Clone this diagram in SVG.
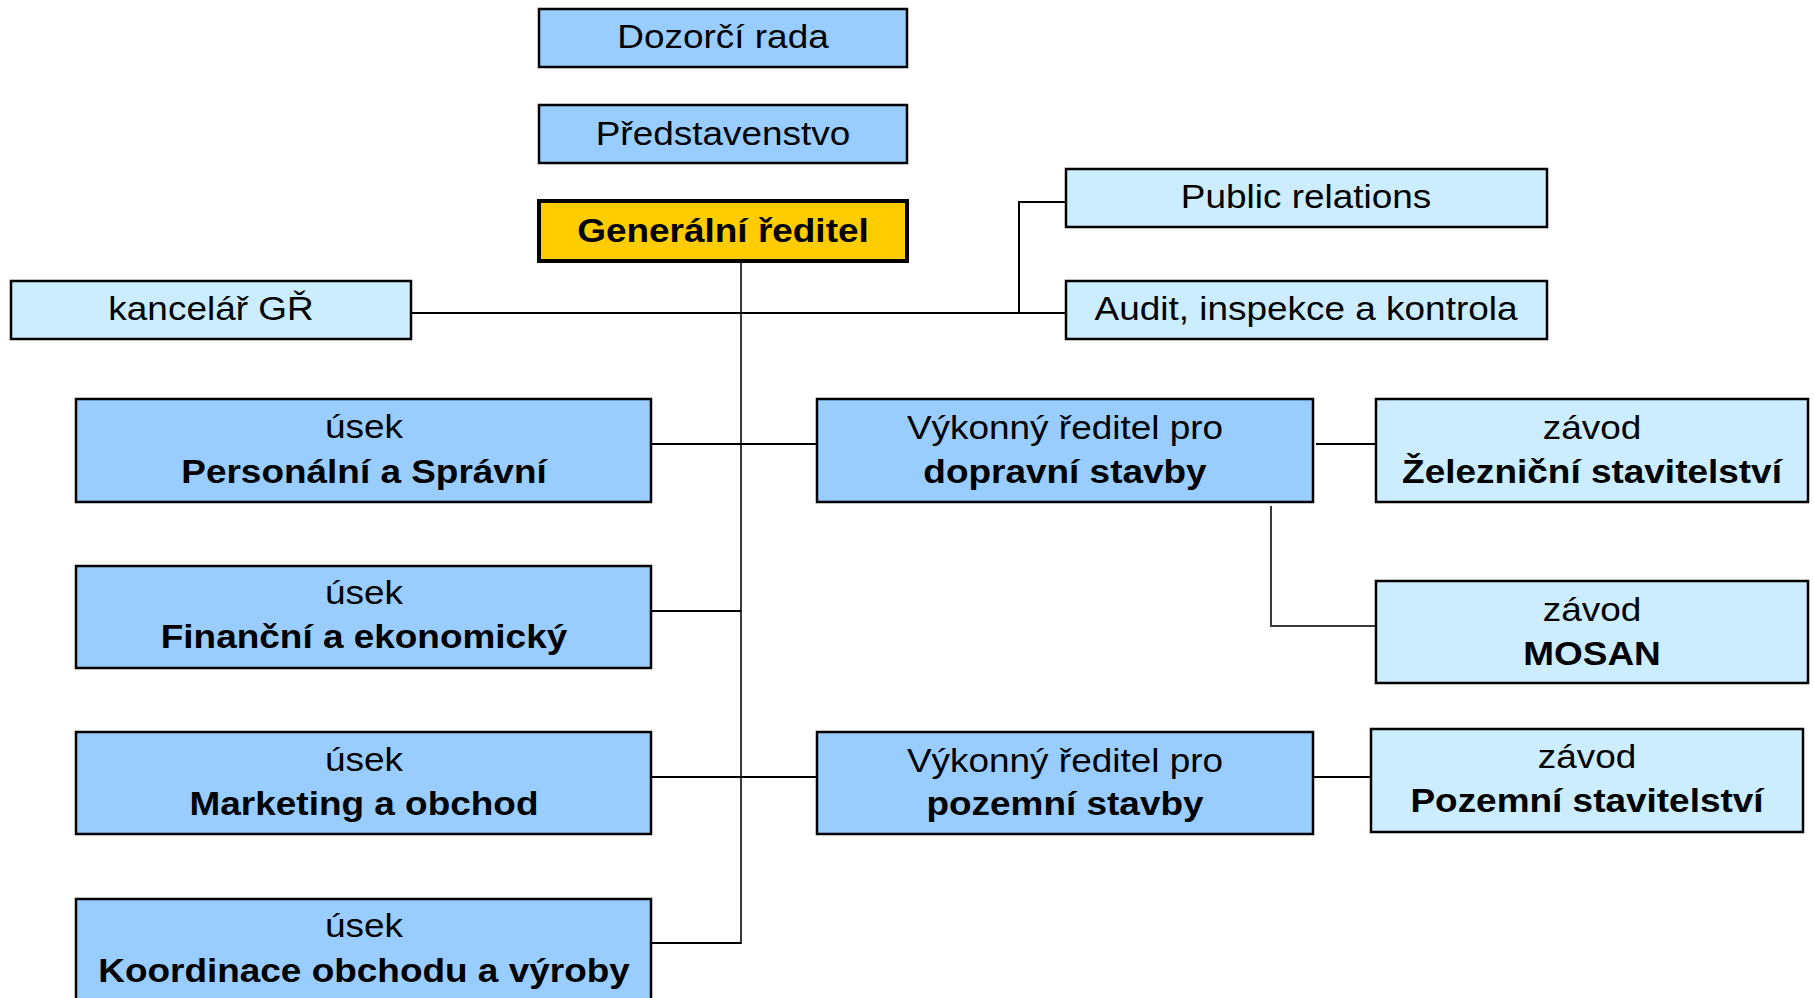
<svg xmlns="http://www.w3.org/2000/svg" width="1814" height="998" viewBox="0 0 1814 998">
<style>
.n{stroke:#000;stroke-width:2.5}
.mb{fill:#99CCFF}
.lb{fill:#CCECFF}
.gd{fill:#FFCC00;stroke-width:4}
text{font-family:"Liberation Sans",Arial,sans-serif;font-size:33px;text-anchor:middle;fill:#000}
.b{font-weight:bold}
.c{fill:none;stroke:#000;stroke-width:2}
.cv{fill:none;stroke:#3a3a3a;stroke-width:2}
</style>
<rect width="1814" height="998" fill="#fff"/>
<g id="connectors">
<line class="cv" x1="741" y1="262" x2="741" y2="944"/>
<line class="c" x1="411" y1="313" x2="1066" y2="313"/>
<polyline class="c" points="1066,202 1019,202 1019,313"/>
<line class="c" x1="651" y1="444" x2="817" y2="444"/>
<line class="c" x1="651" y1="611" x2="741" y2="611"/>
<line class="c" x1="651" y1="777" x2="817" y2="777"/>
<line class="c" x1="651" y1="943" x2="741" y2="943"/>
<line class="c" x1="1316" y1="444" x2="1376" y2="444"/>
<polyline class="cv" points="1271,506 1271,626 1376,626"/>
<line class="c" x1="1313" y1="777" x2="1371" y2="777"/>
</g>
<g id="dozorci-rada">
<rect class="n mb" x="539" y="9" width="368" height="58"/>
<text transform="translate(723,48) scale(1.12,1)">Dozorčí rada</text>
</g>
<g id="predstavenstvo">
<rect class="n mb" x="539" y="105" width="368" height="58"/>
<text transform="translate(723,145) scale(1.12,1)">Představenstvo</text>
</g>
<g id="generalni-reditel">
<rect class="n gd" x="539" y="201" width="368" height="60"/>
<text class="b" transform="translate(723,242) scale(1.12,1)">Generální ředitel</text>
</g>
<g id="kancelar-gr">
<rect class="n lb" x="11" y="281" width="400" height="58"/>
<text transform="translate(211,320) scale(1.12,1)">kancelář GŘ</text>
</g>
<g id="public-relations">
<rect class="n lb" x="1066" y="169" width="481" height="58"/>
<text transform="translate(1306,208) scale(1.12,1)">Public relations</text>
</g>
<g id="audit">
<rect class="n lb" x="1066" y="281" width="481" height="58"/>
<text transform="translate(1306,320) scale(1.12,1)">Audit, inspekce a kontrola</text>
</g>
<g id="usek-personalni">
<rect class="n mb" x="76" y="399" width="575" height="103"/>
<text transform="translate(364,438) scale(1.12,1)">úsek</text>
<text class="b" transform="translate(364,483) scale(1.12,1)">Personální a Správní</text>
</g>
<g id="usek-financni">
<rect class="n mb" x="76" y="566" width="575" height="102"/>
<text transform="translate(364,604) scale(1.12,1)">úsek</text>
<text class="b" transform="translate(364,648) scale(1.12,1)">Finanční a ekonomický</text>
</g>
<g id="usek-marketing">
<rect class="n mb" x="76" y="732" width="575" height="102"/>
<text transform="translate(364,771) scale(1.12,1)">úsek</text>
<text class="b" transform="translate(364,815) scale(1.12,1)">Marketing a obchod</text>
</g>
<g id="usek-koordinace">
<rect class="n mb" x="76" y="899" width="575" height="120"/>
<text transform="translate(364,937) scale(1.12,1)">úsek</text>
<text class="b" transform="translate(364,982) scale(1.12,1)">Koordinace obchodu a výroby</text>
</g>
<g id="vr-dopravni">
<rect class="n mb" x="817" y="399" width="496" height="103"/>
<text transform="translate(1065,439) scale(1.12,1)">Výkonný ředitel pro</text>
<text class="b" transform="translate(1065,483) scale(1.12,1)">dopravní stavby</text>
</g>
<g id="vr-pozemni">
<rect class="n mb" x="817" y="732" width="496" height="102"/>
<text transform="translate(1065,772) scale(1.12,1)">Výkonný ředitel pro</text>
<text class="b" transform="translate(1065,815) scale(1.12,1)">pozemní stavby</text>
</g>
<g id="zavod-zeleznicni">
<rect class="n lb" x="1376" y="399" width="432" height="103"/>
<text transform="translate(1592,439) scale(1.12,1)">závod</text>
<text class="b" transform="translate(1592,483) scale(1.12,1)">Železniční stavitelství</text>
</g>
<g id="zavod-mosan">
<rect class="n lb" x="1376" y="581" width="432" height="102"/>
<text transform="translate(1592,621) scale(1.12,1)">závod</text>
<text class="b" transform="translate(1592,665) scale(1.12,1)">MOSAN</text>
</g>
<g id="zavod-pozemni">
<rect class="n lb" x="1371" y="729" width="432" height="103"/>
<text transform="translate(1587,768) scale(1.12,1)">závod</text>
<text class="b" transform="translate(1587,812) scale(1.12,1)">Pozemní stavitelství</text>
</g>
</svg>
